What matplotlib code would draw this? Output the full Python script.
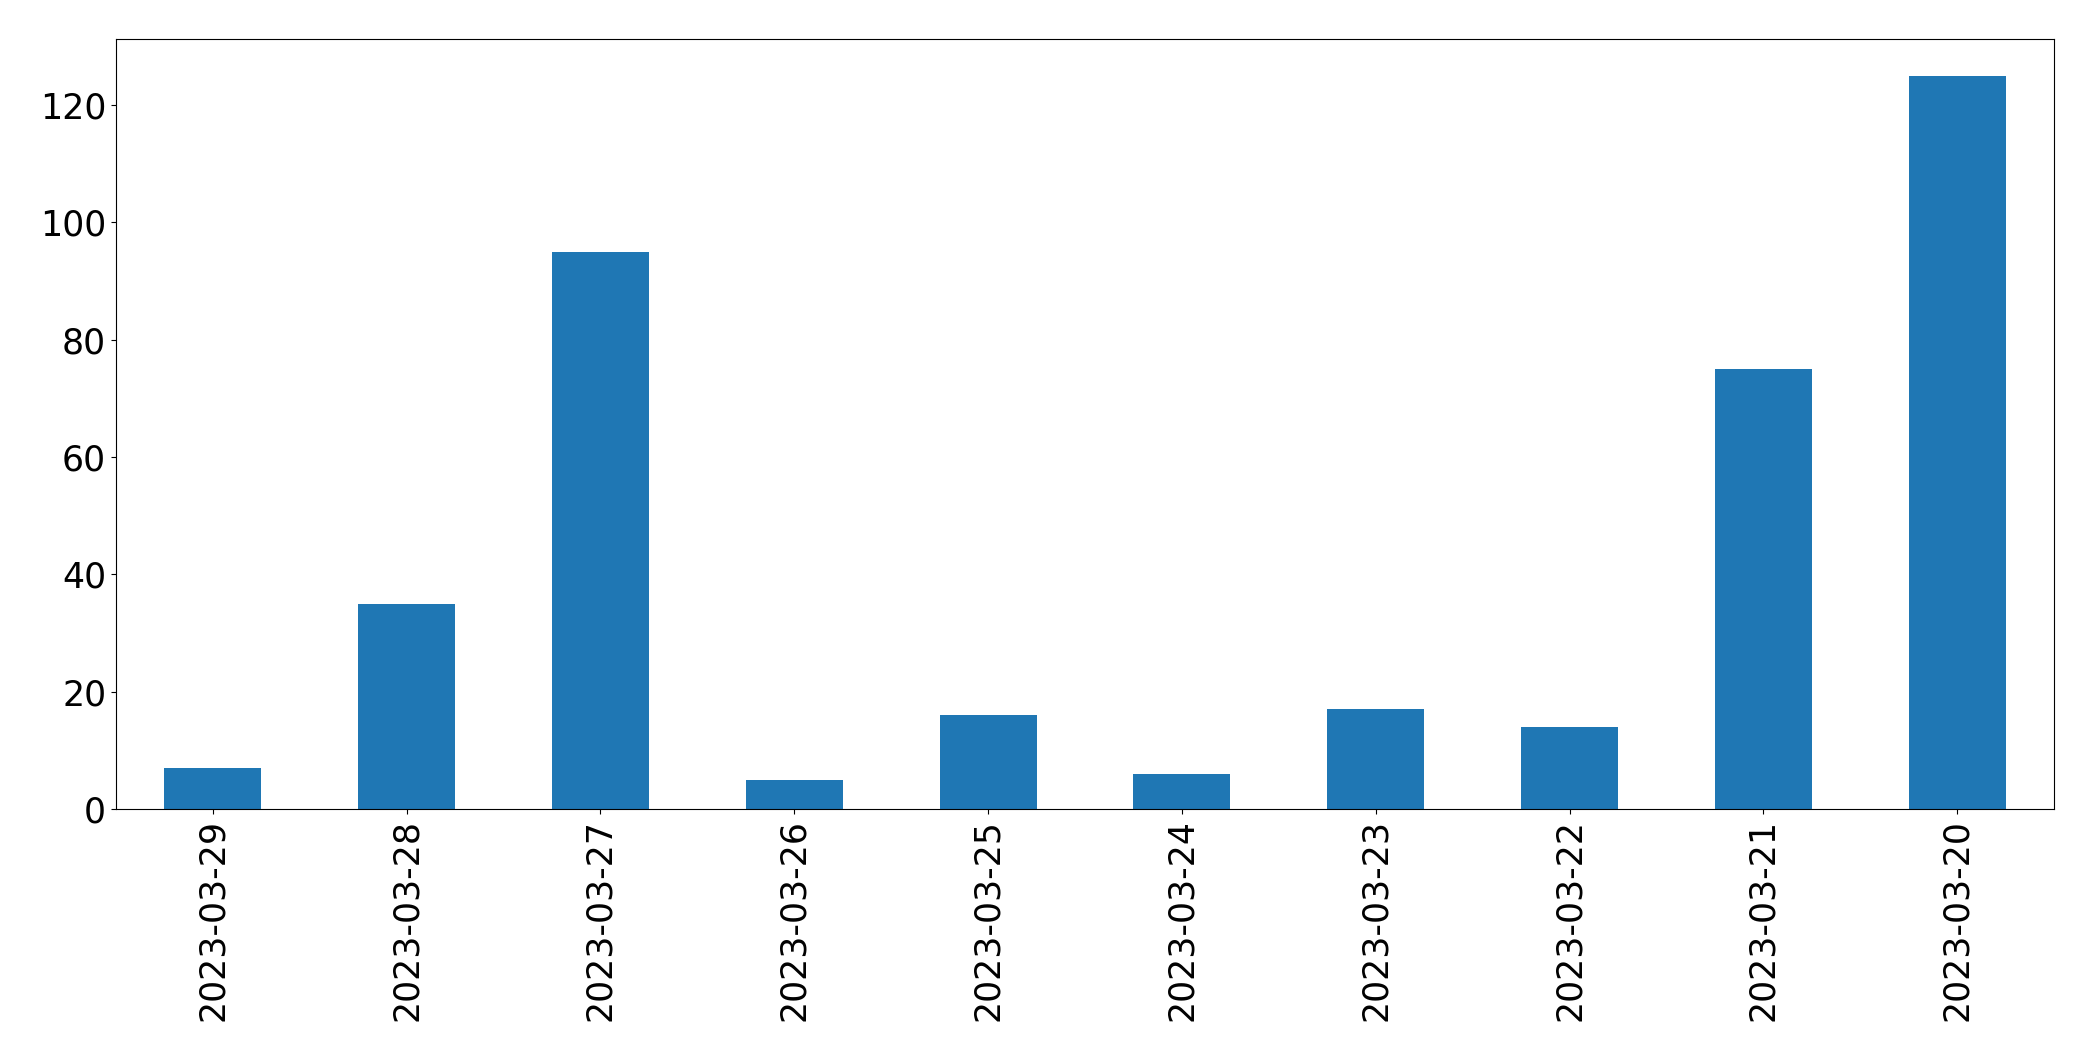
import numpy as np
import matplotlib
matplotlib.use("Agg")
import matplotlib.pyplot as plt

# Dates (as shown, newest first) and counts
dates = ['2023-03-29', '2023-03-28', '2023-03-27', '2023-03-26', '2023-03-25',
         '2023-03-24', '2023-03-23', '2023-03-22', '2023-03-21', '2023-03-20']
counts = [7, 35, 95, 5, 16, 6, 17, 14, 75, 125]

fig = plt.figure(figsize=(20.93, 10.61), dpi=100)
ax = fig.add_axes([0.0554, 0.2375, 0.926, 0.7257])

x = np.arange(len(dates))
ax.bar(x, counts, width=0.5, color='#1f77b4')
ax.set_xlim(-0.5, len(dates) - 0.5)
ax.set_ylim(0, max(counts) * 1.05)
ax.set_xticks(x)
ax.set_xticklabels(dates, rotation=90)
ax.tick_params(axis='both', labelsize=25)

fig.savefig('out.png', dpi=100)
